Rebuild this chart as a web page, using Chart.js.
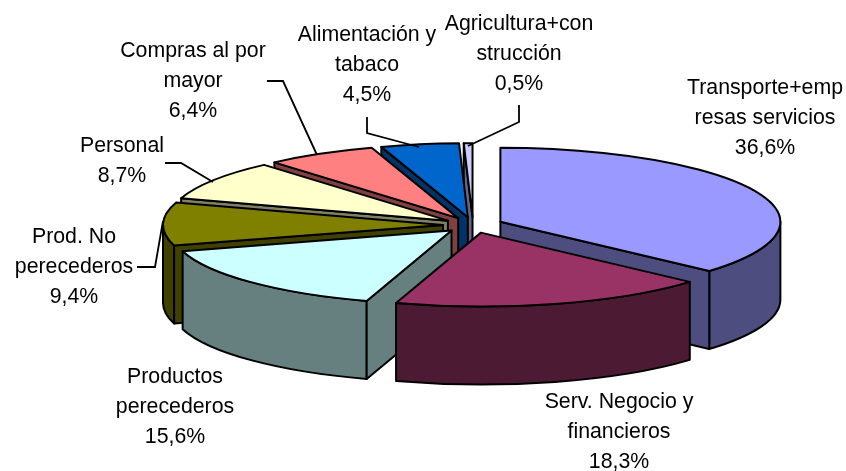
<!DOCTYPE html>
<html><head><meta charset="utf-8">
<style>html,body{margin:0;padding:0;background:#fff}canvas{display:block}</style>
<script src="https://cdn.jsdelivr.net/npm/chart.js@4"></script>
</head><body><canvas id="c" width="846" height="471"></canvas>
<script>
const categories = ["Transporte+empresas servicios","Serv. Negocio y financieros","Productos perecederos","Prod. No perecederos","Personal","Compras al por mayor","Alimentación y tabaco","Agricultura+construcción"];
const labelLines = [["Transporte+emp","resas servicios"],["Serv. Negocio y","financieros"],["Productos","perecederos"],["Prod. No","perecederos"],["Personal"],["Compras al por","mayor"],["Alimentación y","tabaco"],["Agricultura+con","strucción"]];
const values = [36.6,18.3,15.6,9.4,8.7,6.4,4.5,0.5];
const topColors = ["#9999FF","#993366","#CCFFFF","#808000","#FFFFCC","#FF8080","#0066CC","#CCCCFF"];
const wallColors = ["#4D4D80","#4D1A33","#668080","#404000","#808066","#804040","#003366","#666680"];
const labelCenters = [[765,88],[619,402],[175,377.5],[74,237],[122,146],[193,51],[367,35],[519,24]];
const leaderLines = [null,null,null,[[137,267],[155,267],[163,221]],[[165,163],[181,163],[213,182]],[[267,81],[283,81],[317,155]],[[367,117],[367,133],[419,147]],[[519,105],[519,122],[468,146]]];
const TILT = 0.264, DEPTH = 78, EXPLODE = 30, RADIUS = 280, LINE_H = 30;

const pie3d = {
  id:'pie3d',
  beforeDatasetDraw(chart,args){
    const ctx = chart.ctx, arcs = args.meta.data;
    const order = arcs.map((a,i)=>i).sort((p,q)=>Math.sin((arcs[p].startAngle+arcs[p].endAngle)/2)-Math.sin((arcs[q].startAngle+arcs[q].endAngle)/2));
    ctx.lineJoin='round'; 
    for(const i of order){
      const a = arcs[i], s=a.startAngle, e=a.endAngle, m=(s+e)/2, r=a.outerRadius;
      const ax = a.x+Math.cos(m)*EXPLODE, ay = a.y+Math.sin(m)*EXPLODE*TILT;
      const rim = t=>[ax+r*Math.cos(t), ay+r*TILT*Math.sin(t)];
      ctx.lineWidth=2; ctx.strokeStyle='#000'; ctx.fillStyle=wallColors[i];
      // outer band
      const b0=Math.max(s,0), b1=Math.min(e,Math.PI);
      if(b1>b0){
        ctx.beginPath();
        ctx.ellipse(ax,ay,r,r*TILT,0,b0,b1);
        ctx.ellipse(ax,ay+DEPTH,r,r*TILT,0,b1,b0,true);
        ctx.closePath(); ctx.fill(); ctx.stroke();
      }
      // radial walls
      const wall=t=>{const p=rim(t);ctx.beginPath();ctx.moveTo(ax,ay);ctx.lineTo(p[0],p[1]);ctx.lineTo(p[0],p[1]+DEPTH);ctx.lineTo(ax,ay+DEPTH);ctx.closePath();ctx.fill();ctx.stroke();};
      if(Math.cos(s)<0) wall(s);
      if(Math.cos(e)>0) wall(e);
      // top face: drawn by the library's arc element under a squashing transform
      const squash=()=>{ctx.translate(ax,ay);ctx.scale(1,TILT);ctx.translate(-a.x,-a.y);};
      ctx.save(); squash(); a.draw(ctx); ctx.restore();
      ctx.save(); squash(); ctx.beginPath(); ctx.moveTo(a.x,a.y); ctx.arc(a.x,a.y,r,s,e); ctx.closePath(); ctx.restore();
      ctx.lineWidth=2; ctx.strokeStyle='#000'; ctx.stroke();
    }
    return false;
  },
  afterDraw(chart){
    const ctx=chart.ctx;
    ctx.save();
    ctx.strokeStyle='#000'; ctx.lineWidth=1.8; ctx.lineJoin='miter';
    leaderLines.forEach(l=>{ if(!l) return; ctx.beginPath(); l.forEach((p,i)=>i?ctx.lineTo(p[0],p[1]):ctx.moveTo(p[0],p[1])); ctx.stroke(); });
    ctx.fillStyle='#000'; ctx.font='21.3px "Liberation Sans"'; ctx.textAlign='center'; ctx.textBaseline='middle';
    labelLines.forEach((ls,i)=>{
      const lines=[...ls, values[i].toFixed(1).replace('.',',')+'%'];
      lines.forEach((t,j)=>ctx.fillText(t,labelCenters[i][0],labelCenters[i][1]+j*LINE_H));
    });
    ctx.restore();
  }
};
new Chart(document.getElementById('c'),{
  type:'pie',
  data:{labels:categories,datasets:[{data:values,backgroundColor:topColors,borderWidth:0,radius:RADIUS}]},
  options:{responsive:false,animation:false,layout:{padding:{left:100,bottom:21}},plugins:{legend:{display:false},tooltip:{enabled:false},title:{display:false}}},
  plugins:[pie3d]
});
</script></body></html>
